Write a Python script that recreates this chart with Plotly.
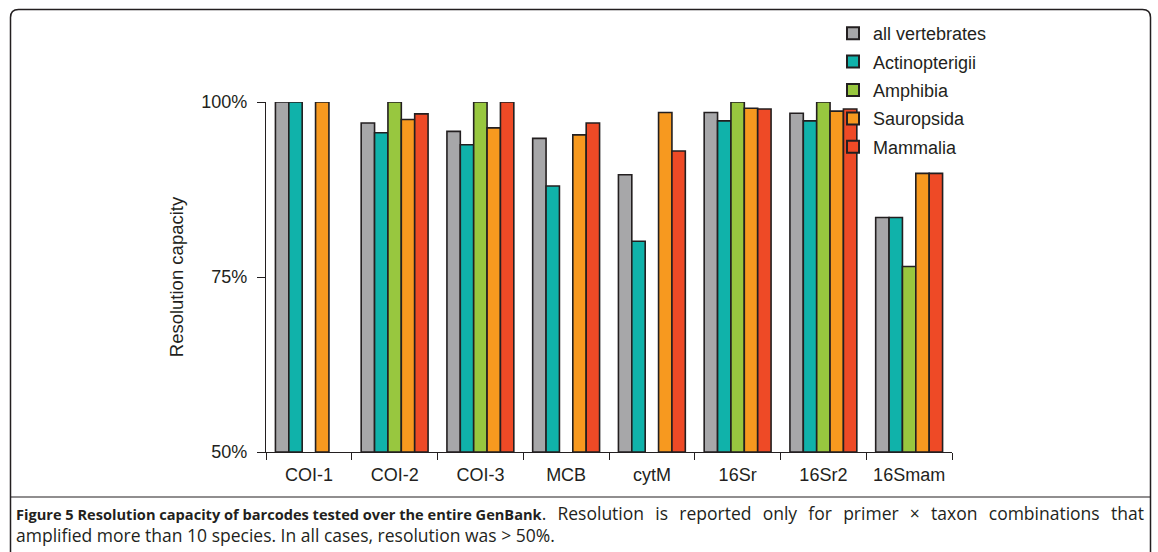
import plotly.graph_objects as go

categories = ["COI-1", "COI-2", "COI-3", "MCB", "cytM", "16Sr", "16Sr2", "16Smam"]
series_names = ["all vertebrates", "Actinopterigii", "Amphibia", "Sauropsida", "Mammalia"]
all_vertebrates = [100, 97.0, 95.8, 94.8, 89.6, 98.5, 98.4, 83.5]
actinopterigii = [100, 95.6, 93.9, 88.0, 80.1, 97.3, 97.3, 83.5]
amphibia = [None, 100, 100, None, None, 100, 100, 76.5]
sauropsida = [100, 97.5, 96.3, 95.3, 98.5, 99.1, 98.7, 89.8]
mammalia = [None, 98.3, 100, 97.0, 93.0, 99.0, 99.0, 89.8]
y_tickvals = [50, 75, 100]
y_ticktext = ["50%", "75%", "100%"]

series_values = [all_vertebrates, actinopterigii, amphibia, sauropsida, mammalia]
colors = ["#A7A7A9", "#10B2AA", "#98C73F", "#F7991F", "#EE4A26"]

W, H = 1158, 552
L, R, T, B = 266, 952, 102, 452  # plot area in px


def px(x):
    return (x - L) / (R - L)


def py(y):
    return (B - y) / (B - T)


fig = go.Figure()
for name, vals, col in zip(series_names, series_values, colors):
    fig.add_trace(go.Bar(
        x=categories, y=[v - 50 if v is not None else None for v in vals], base=50,
        name=name, legendgroup=name,
        marker=dict(color=col, line=dict(color="#231F20", width=1.6)),
    ))

font_main = "Liberation Sans, Arial, sans-serif"
ink = "#231F20"

fig.update_layout(
    width=W, height=H,
    margin=dict(l=L, r=W - R, t=T, b=H - B, pad=0),
    paper_bgcolor="white", plot_bgcolor="white",
    barmode="group", bargap=0.22, bargroupgap=0,
    font=dict(family=font_main, size=18, color=ink),
    showlegend=True,
    legend=dict(x=px(833), y=py(15), xanchor="left", yanchor="top",
                font=dict(size=18, color=ink), bgcolor="rgba(0,0,0,0)",
                tracegroupgap=2, itemsizing="constant"),
    xaxis=dict(type="category", showline=True, linecolor=ink, linewidth=1.3,
               ticks="outside", tickson="boundaries", ticklen=7, tickcolor=ink,
               tickwidth=1.3, showgrid=False, zeroline=False,
               ticklabelstandoff=6,
               tickfont=dict(size=18, color=ink), fixedrange=True),
    yaxis=dict(range=[50, 100], tickvals=y_tickvals, ticktext=y_ticktext,
               showline=True, linecolor=ink, linewidth=1.3, ticks="outside",
               ticklen=8, tickcolor=ink, tickwidth=1.3, showgrid=False,
               zeroline=False, tickfont=dict(size=18, color=ink),
               ticklabelstandoff=6, fixedrange=True,
               title=dict(text="Resolution capacity", font=dict(size=18.5, color=ink),
                          standoff=12)),
)

# Rounded border box
x0, x1, y0, y1, r = 10.5, 1150.5, 9.5, 560, 8
pth = (f"M {px(x0 + r)},{py(y0)} L {px(x1 - r)},{py(y0)} "
       f"Q {px(x1)},{py(y0)} {px(x1)},{py(y0 + r)} "
       f"L {px(x1)},{py(y1 - r)} Q {px(x1)},{py(y1)} {px(x1 - r)},{py(y1)} "
       f"L {px(x0 + r)},{py(y1)} Q {px(x0)},{py(y1)} {px(x0)},{py(y1 - r)} "
       f"L {px(x0)},{py(y0 + r)} Q {px(x0)},{py(y0)} {px(x0 + r)},{py(y0)} Z")
fig.add_shape(type="path", path=pth, xref="paper", yref="paper",
              line=dict(color=ink, width=1.5), layer="above")
# separator line above caption
fig.add_shape(type="line", xref="paper", yref="paper",
              x0=px(x0), x1=px(x1), y0=py(497), y1=py(497),
              line=dict(color=ink, width=1.2))

cap_font = "Open Sans, sans-serif"
fig.add_annotation(
    xref="paper", yref="paper", x=px(14), y=py(513), xanchor="left", yanchor="middle",
    showarrow=False, align="left",
    text="<b>Figure 5 Resolution capacity of barcodes tested over the entire GenBank</b>"
         "<span style='font-size:17.5px;word-spacing:6.7px'>. Resolution is reported only "
         "for primer × taxon combinations that</span>",
    font=dict(family=cap_font, size=14.6, color=ink))
fig.add_annotation(
    xref="paper", yref="paper", x=px(14), y=py(535), xanchor="left", yanchor="middle",
    showarrow=False, align="left",
    text="amplified more than 10 species. In all cases, resolution was > 50%.",
    font=dict(family=cap_font, size=17.5, color=ink))

fig.write_html("out.html", config={"displayModeBar": False},
               post_script="document.body.style.margin='0';")
